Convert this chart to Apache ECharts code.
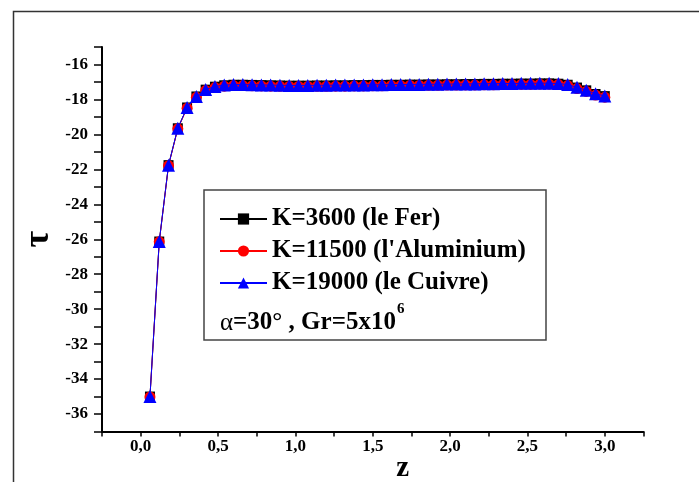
<!DOCTYPE html>
<html>
<head>
<meta charset="utf-8">
<script src="https://cdn.jsdelivr.net/npm/echarts@6/dist/echarts.min.js"></script>
<style>html,body{margin:0;padding:0;background:#fff;}#c{width:699px;height:482px;}</style>
</head>
<body>
<div id="c"></div>
<script>
const zValues = [0.06,0.12,0.18,0.24,0.30,0.36,0.42,0.48,0.54,0.60,
  0.66,0.72,0.78,0.84,0.90,0.96,1.02,1.08,1.14,1.20,
  1.26,1.32,1.38,1.44,1.50,1.56,1.62,1.68,1.74,1.80,
  1.86,1.92,1.98,2.04,2.10,2.16,2.22,2.28,2.34,2.40,
  2.46,2.52,2.58,2.64,2.70,2.76,2.82,2.88,2.94,3.00];
const tauFer = [-35.00,-26.13,-21.76,-19.65,-18.46,-17.83,-17.44,-17.27,-17.19,-17.16,
  -17.16,-17.17,-17.18,-17.19,-17.20,-17.21,-17.21,-17.21,-17.20,-17.20,
  -17.19,-17.19,-17.18,-17.18,-17.17,-17.17,-17.16,-17.16,-17.15,-17.15,
  -17.14,-17.14,-17.13,-17.13,-17.12,-17.12,-17.11,-17.11,-17.10,-17.10,
  -17.09,-17.09,-17.08,-17.08,-17.10,-17.16,-17.32,-17.48,-17.69,-17.81];
const tauAlu = [-35.02,-26.15,-21.79,-19.68,-18.50,-17.88,-17.49,-17.32,-17.24,-17.21,
  -17.21,-17.22,-17.23,-17.24,-17.25,-17.26,-17.26,-17.26,-17.25,-17.25,
  -17.24,-17.24,-17.23,-17.23,-17.22,-17.22,-17.21,-17.21,-17.20,-17.20,
  -17.19,-17.19,-17.18,-17.18,-17.17,-17.17,-17.16,-17.16,-17.15,-17.15,
  -17.14,-17.14,-17.13,-17.13,-17.15,-17.21,-17.38,-17.54,-17.75,-17.87];
const tauCuivre = [-35.00,-26.13,-21.76,-19.65,-18.46,-17.83,-17.43,-17.26,-17.18,-17.15,
  -17.15,-17.16,-17.17,-17.18,-17.19,-17.20,-17.20,-17.20,-17.19,-17.19,
  -17.18,-17.18,-17.17,-17.17,-17.16,-17.16,-17.15,-17.15,-17.14,-17.14,
  -17.13,-17.13,-17.12,-17.12,-17.11,-17.11,-17.10,-17.10,-17.09,-17.09,
  -17.08,-17.08,-17.07,-17.07,-17.09,-17.15,-17.31,-17.47,-17.68,-17.80];
const seriesNames = ['K=3600 (le Fer)', "K=11500 (l'Aluminium)", 'K=19000 (le Cuivre)'];

const pair = (ys) => zValues.map((z, i) => [z, ys[i]]);
const serif = "'Liberation Serif','Times New Roman',serif";

const chart = echarts.init(document.getElementById('c'));
chart.setOption({
  animation: false,
  backgroundColor: '#fff',
  grid: { left: 102, right: 55.5, top: 47, bottom: 50.5, containLabel: false, outerBoundsMode: 'none' },
  xAxis: {
    type: 'value', min: -0.25, max: 3.25, interval: 0.25,
    name: 'z', nameLocation: 'middle', nameGap: 23, nameMoveOverlap: false,
    nameTextStyle: { fontFamily: serif, fontWeight: 'bold', fontSize: 29, color: '#000', padding: [0, 0, 0, 60] },
    axisLine: { show: true, onZero: false, lineStyle: { color: '#000', width: 2 } },
    axisTick: { show: true, inside: false, length: 5, lineStyle: { color: '#000', width: 1.5 } },
    axisLabel: {
      margin: 7, fontFamily: serif, fontWeight: 'bold', fontSize: 17, color: '#000',
      formatter: (v) => {
        const d = v * 2;
        if (v < -1e-9 || v > 3.0001 || Math.abs(d - Math.round(d)) > 1e-6) return '';
        return v.toFixed(1).replace('.', ',');
      }
    },
    splitLine: { show: false }
  },
  yAxis: {
    type: 'value', min: -37, max: -15, interval: 1,
    name: 'τ', nameLocation: 'middle', nameGap: 45, nameRotate: 90, nameMoveOverlap: false,
    nameTextStyle: { fontFamily: serif, fontWeight: 'bold', fontSize: 36, color: '#000' },
    axisLine: { show: true, onZero: false, lineStyle: { color: '#000', width: 2 } },
    axisTick: { show: true, inside: false, length: 8, lineStyle: { color: '#000', width: 1.5 } },
    axisLabel: {
      margin: 14, fontFamily: serif, fontWeight: 'bold', fontSize: 17, color: '#000',
      formatter: (v) => (Math.round(v) % 2 === 0 && v > -37 && v < -15) ? String(v) : ''
    },
    splitLine: { show: false }
  },
  legend: {
    orient: 'vertical', left: 219, top: 204, padding: 0,
    itemWidth: 47, itemHeight: 14, itemGap: 2,
    textStyle: { fontFamily: serif, fontWeight: 'bold', fontSize: 25, color: '#000', lineHeight: 30 },
    data: seriesNames
  },
  series: [
    { name: seriesNames[0], type: 'line', data: pair(tauFer), symbol: 'rect', symbolSize: 10,
      lineStyle: { color: '#000', width: 1 }, itemStyle: { color: '#000' }, z: 2 },
    { name: seriesNames[1], type: 'line', data: pair(tauAlu), symbol: 'circle', symbolSize: 11,
      lineStyle: { color: '#ff0000', width: 1 }, itemStyle: { color: '#ff0000' }, z: 3 },
    { name: seriesNames[2], type: 'line', data: pair(tauCuivre), symbol: 'triangle', symbolSize: 13,
      lineStyle: { color: '#0000ff', width: 1 }, itemStyle: { color: '#0000ff' }, z: 4 }
  ],
  graphic: [
    { type: 'rect', left: 11, top: 9, shape: { x: 0, y: 0, width: 720, height: 500 },
      style: { fill: 'none', stroke: '#333', lineWidth: 1.5 }, silent: true },
    { type: 'rect', shape: { x: 204, y: 190, width: 342, height: 150 },
      style: { fill: 'none', stroke: '#444', lineWidth: 1.5 }, silent: true },
    { type: 'text', x: 220, y: 323,
      style: {
        text: '{a|α}{b|=30° , Gr=5x10}{s|6}',
        verticalAlign: 'middle',
        rich: {
          a: { fontFamily: serif, fontSize: 25, fill: '#000' },
          b: { fontFamily: serif, fontWeight: 'bold', fontSize: 25, fill: '#000' },
          s: { fontFamily: serif, fontWeight: 'bold', fontSize: 15, fill: '#000', verticalAlign: 'bottom', padding: [0, 0, 28, 1] }
        }
      }, silent: true }
  ]
});
</script>
</body>
</html>
